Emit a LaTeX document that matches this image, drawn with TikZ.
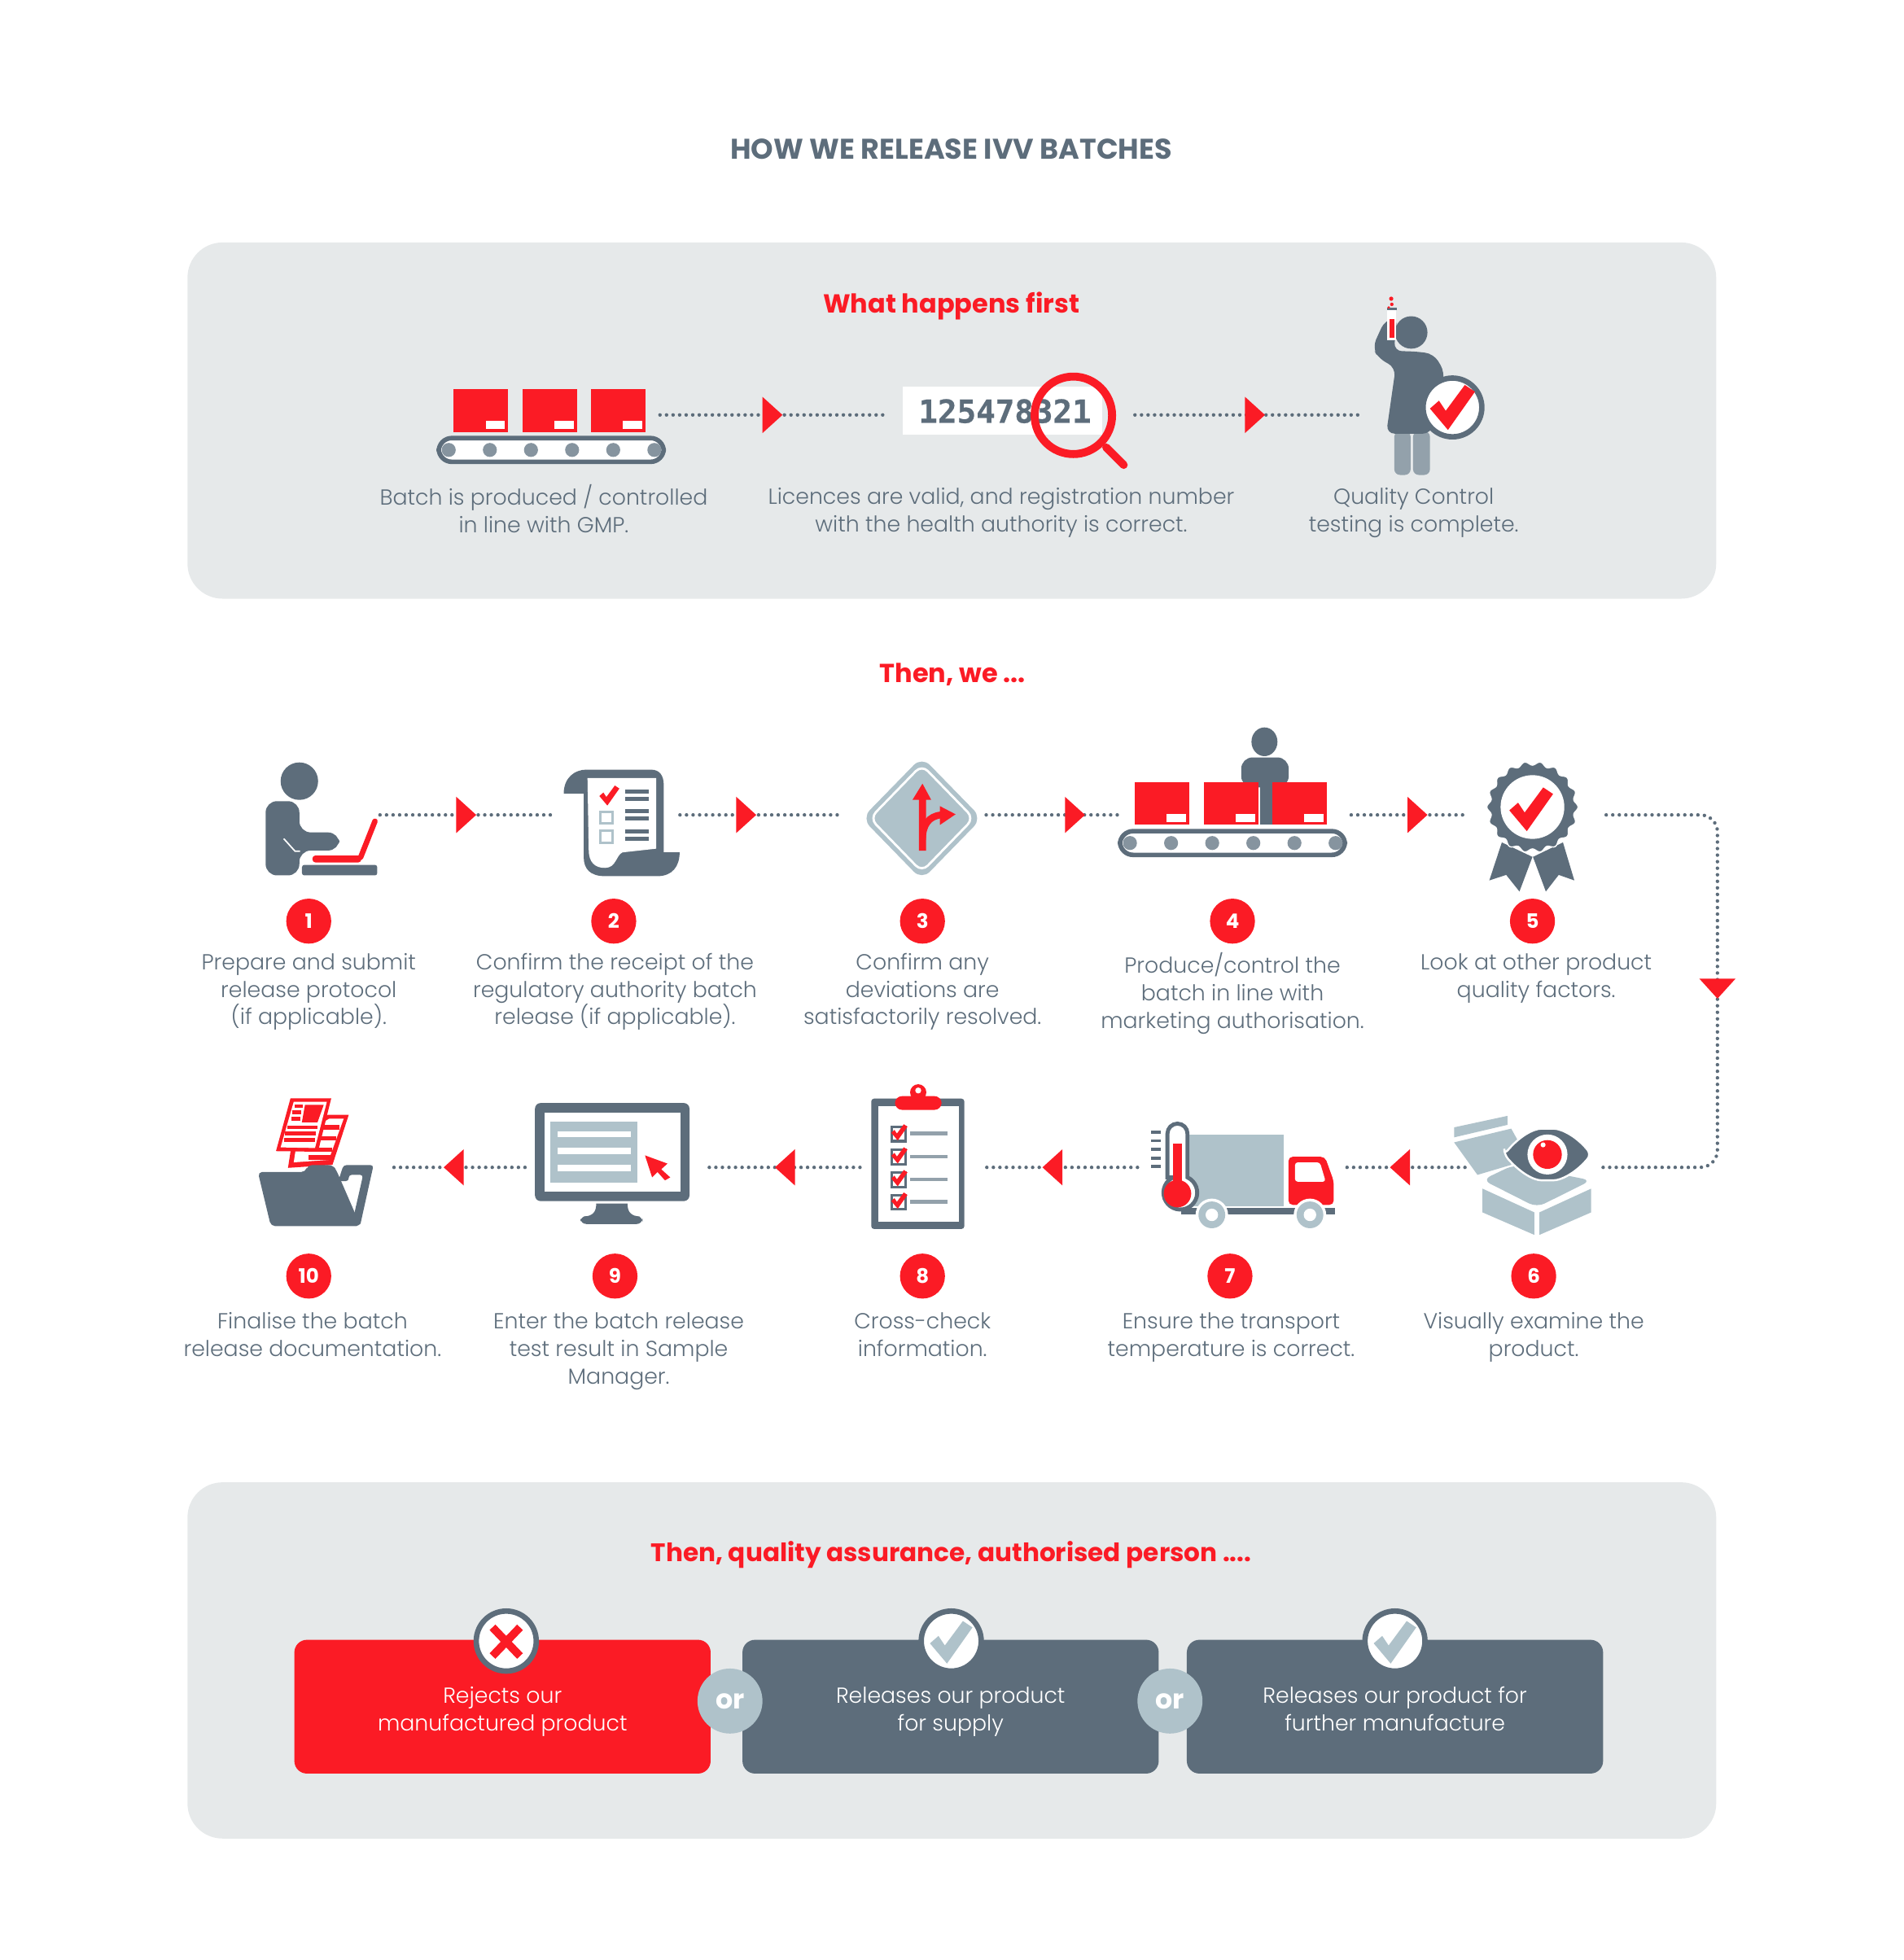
\documentclass[tikz,border=0pt]{standalone}
\usepackage{fontspec}
\setmainfont{Poppins}[UprightFont={* Light},BoldFont={* Bold}]
\newfontfamily\platefont[BoldFeatures={FakeBold=0.6}]{DejaVu Sans Mono}
\definecolor{flowred}{HTML}{FB1B25}
\definecolor{icongray}{HTML}{5D6D7B}
\definecolor{iconlight}{HTML}{AFC2CA}
\definecolor{legblue}{HTML}{93A1AB}
\definecolor{panelgray}{HTML}{E6E9EA}
\def\unitlen{0.0154288cm}
\tikzstyle{flowdots}=[icongray,line width=1.25pt,line cap=round,dash pattern=on 0pt off 2.3pt]
\tikzstyle{iconslot}=[inner sep=0pt,minimum height=1pt,outer sep=0pt]
\tikzstyle{panelbox}=[fill=panelgray,rounded corners=12.3pt,inner sep=0pt,minimum width=1223*\unitlen,minimum height=285*\unitlen]
\tikzstyle{headline}=[flowred,font=\fontsize{9.15}{11}\selectfont\bfseries]
\tikzstyle{stepnum}=[circle,fill=flowred,text=white,inner sep=0pt,minimum size=36*\unitlen,font=\fontsize{7}{8}\selectfont\bfseries]
\tikzstyle{steptext}=[icongray,align=center,anchor=north,inner sep=0pt,font=\fontsize{7.65}{9.65}\selectfont]
\tikzstyle{outcomebox}=[text=white,align=center,rounded corners=4.4pt,inner sep=0pt,minimum width=333*\unitlen,minimum height=107*\unitlen,font=\fontsize{7.65}{9.65}\selectfont]
\tikzstyle{orbadge}=[circle,fill=iconlight,text=white,inner sep=0pt,minimum size=52*\unitlen,font=\fontsize{9.5}{11}\selectfont\bfseries]
\tikzstyle{resultbadge}=[circle,draw=icongray,fill=white,line width=1.9pt,inner sep=0pt,minimum size=48*\unitlen]
\newcommand{\slot}[4]{
	\node[iconslot,minimum width=(#3-#2)*\unitlen] (#1) at ({(#2+#3)/2},#4) {};
}
\newcommand{\flowtri}[3]{
	\fill[flowred,shift={(#1,#2)},rotate=#3] (-8,-14.5) -- (8,0) -- (-8,14.5) -- cycle;
}
\newcommand{\tickmark}[4]{
	\fill[#1,shift={(#2,#3)},scale=#4] (-1,0.05) -- (-0.6,-0.3) -- (-0.3,0.15) -- (0.55,-1) -- (1,-0.7) -- (-0.2,1) -- cycle;
}
\newcommand{\twolines}[2]{\rule{0pt}{9.5pt}#1\\#2\rule[-2.1pt]{0pt}{0pt}}
\newcommand{\drawconveyor}[2]{
\begin{scope}[shift={(#1,#2)}]
	\foreach \i in {0,1,2} {
		\fill[flowred] (14+55*\i,-37) rectangle ++(43.5,34);
		\fill[white] (39.5+55*\i,-12) rectangle ++(15.5,6.7);
	}
	\draw[icongray,fill=white,line width=1.6pt,rounded corners=4.6pt] (2,2) rectangle (182,21);
	\foreach \i in {0,...,5}
		\fill[legblue!75!icongray] (10+32.9*\i,11.5) circle [radius=5.6];
\end{scope}
}
\begin{document}
\begin{tikzpicture}[x=\unitlen,y=-\unitlen]
\useasboundingbox (0,0) rectangle (1523.2,1568.2);
% panels
\node[panelbox] (toppanel) at (761.5,336.5) {};
\node[panelbox] (endpanel) at (761.5,1328.5) {};
% headings
\node[icongray,font=\fontsize{10}{12}\selectfont\bfseries] (title) at (761,119.5) {HOW WE RELEASE IVV BATCHES};
\node[headline] (firsthead) at (761,245) {What happens first};
\node[headline] (thenhead) at (762,539.5) {Then, we ...};
\node[headline,font=\fontsize{8.9}{11}\selectfont\bfseries] (qahead) at (761,1244) {Then, quality assurance, authorised person ....};
% slots the connectors run between
\slot{beltone}{345}{528}{332}
\slot{plate}{711}{908}{332}
\slot{tester}{1091}{1190}{332}
\slot{laptop}{200}{304}{652}
\slot{scroll}{442}{544}{652}
\slot{sign}{670}{789}{652}
\slot{belttwo}{898}{1081}{652}
\slot{rosette}{1173}{1285}{652}
\slot{eyebox}{1172}{1282}{934}
\slot{truck}{910}{1073}{934}
\slot{clipboard}{688}{788}{934}
\slot{monitor}{420}{565}{934}
\slot{folder}{200}{310}{934}
\coordinate (bendtop) at (1374,652);
\coordinate (bendbot) at (1374,934);
% connectors
\draw[flowdots] (beltone) -- (plate);
\draw[flowdots] (plate) -- (tester);
\draw[flowdots] (laptop) -- (scroll);
\draw[flowdots] (scroll) -- (sign);
\draw[flowdots] (sign) -- (belttwo);
\draw[flowdots] (belttwo) -- (rosette);
\draw[flowdots,rounded corners=6pt] (rosette) -- (bendtop) -- (bendbot) -- (eyebox);
\draw[flowdots] (eyebox) -- (truck);
\draw[flowdots] (truck) -- (clipboard);
\draw[flowdots] (clipboard) -- (monitor);
\draw[flowdots] (monitor) -- (folder);
\flowtri{618}{332}{0}
\flowtri{1004}{332}{0}
\flowtri{373}{652}{0}
\flowtri{597}{652}{0}
\flowtri{860}{652}{0}
\flowtri{1134}{652}{0}
\flowtri{1374}{791}{-90}
\flowtri{1120}{934}{180}
\flowtri{842}{934}{180}
\flowtri{628}{934}{180}
\flowtri{363}{934}{180}
% top row: conveyor
\drawconveyor{349}{348.5}
% top row: number under the lens
\fill[white] (722,309.5) rectangle (882,347.5);
\node[icongray,font=\platefont\fontsize{11.2}{12}\selectfont\bfseries] (number) at (804,329) {125478321};
\draw[flowred,line width=2.8pt] (858.7,332.3) circle [radius=31];
\draw[flowred,line width=2.8pt,line cap=round] (885,358) -- (899,372);
% top row: tester
\fill[legblue,rounded corners=2pt] (1115.5,345) rectangle (1128.5,380);
\fill[legblue,rounded corners=2pt] (1130.5,345) rectangle (1144,380);
\fill[icongray] (1129,266) circle [radius=13];
\fill[icongray,rounded corners=3pt] (1108,256) -- (1098,278) -- (1103,287) -- (1116.6,294) -- (1109,347) -- (1145,347) -- (1156,298) -- (1147,283) -- (1130,281) -- (1115,281) -- (1118,254) -- cycle;
\fill[white] (1110,247) rectangle (1117,272);
\fill[flowred] (1111.5,255.5) rectangle (1115.5,270.5);
\fill[icongray] (1109.5,246) rectangle (1117.5,248);
\fill[flowred] (1113,239) circle [radius=1.7] (1113.5,243.5) circle [radius=1.4] (1111,246) circle [radius=1];
\draw[icongray,fill=white,line width=1.9pt] (1162,326) circle [radius=23.5];
\tickmark{flowred}{1162}{326}{18}
% step 1: laptop
\fill[icongray] (239.5,625) ellipse [x radius=15,y radius=15];
\fill[icongray,rounded corners=4pt] (212.5,700.4) -- (212.5,641) -- (239.5,641) -- (239.5,666) -- (271.5,666) -- (271.5,680.5) -- (239.5,680.5) -- (239.5,700.4) -- cycle;
\draw[white,line width=0.5pt] (227,671) -- (236,681) -- (240,681);
\fill[icongray,rounded corners=0.8pt] (241.6,692) rectangle (301.8,700.4);
\fill[flowred,rounded corners=1pt] (250,684.5) rectangle (289,690);
\draw[flowred,line width=1.9pt,line cap=round] (288.5,686) -- (300,657);
% step 2: scroll
\fill[icongray] (451,635) .. controls (451,622) and (460,615.8) .. (469,615.8) -- (521,615.8) .. controls (528,615.8) and (531,621) .. (531,628) -- (531,682) -- (543.7,682) .. controls (543.7,693) and (538,701) .. (526,701) -- (484,701) .. controls (472,701) and (467,695) .. (467,686) -- (467,635) -- cycle;
\fill[white] (470,622.5) -- (525,622.5) -- (525,679) -- (498,682) .. controls (493,684) and (493,694.4) .. (484,694.4) .. controls (476,694.4) and (471,690) .. (471,680) -- cycle;
\tickmark{flowred}{487.5}{636.5}{8}
\foreach \y in {633.5,639,649,655,665,671}
	\fill[icongray] (500,\y-1.6) rectangle (519,\y+1.6);
\draw[iconlight,line width=0.9pt] (480.5,649.5) rectangle (490,659);
\draw[iconlight,line width=0.9pt] (480.5,664.5) rectangle (490,674.5);
% step 3: road sign
\fill[iconlight,rounded corners=4pt] (737.5,605.5) -- (785.5,654.7) -- (737.5,704) -- (689.5,654.7) -- cycle;
\draw[white,line width=0.8pt,rounded corners=3pt] (737.5,612) -- (779,654.7) -- (737.5,697.5) -- (696,654.7) -- cycle;
\fill[flowred] (735.2,680.7) -- (735.2,640) -- (730,640) -- (738,627) -- (745,640) -- (740.8,640) -- (740.8,680.7) -- cycle;
\draw[flowred,line width=2.4pt] (738,672) .. controls (738,660) and (743,653) .. (753,652);
\fill[flowred] (752,645) -- (764.5,651.5) -- (752,660) -- cycle;
% step 4: person at conveyor
\fill[icongray] (1011.6,593.5) ellipse [x radius=10.4,y radius=11.5];
\fill[icongray,rounded corners=4pt] (993,630) -- (993,606) -- (1031,606) -- (1031,630) -- cycle;
\fill[icongray] (1008,620) rectangle (1018.8,660);
\drawconveyor{894}{663}
% step 5: rosette
\fill[icongray] (1201.5,674) -- (1226,685.6) -- (1215.6,713.3) -- (1205,700) -- (1191.5,704.4) -- cycle;
\fill[icongray] (1226.4,685.6) -- (1250.4,674) -- (1259.5,704.4) -- (1247,700) -- (1236.7,713.3) -- cycle;
\filldraw[icongray,draw=white,line width=0.4pt] plot[domain=0:358,samples=180,smooth cycle] ({1226+(35+1.5*cos(18*\x))*cos(\x)},{645.7+(35+1.5*cos(18*\x))*sin(\x)});
\fill[white] (1226,645.7) circle [radius=25.5];
\tickmark{flowred}{1225}{647.5}{17.5}
% step 6: box and eye
\fill[iconlight] (1163.3,902) -- (1206,892.8) -- (1206,900) -- (1163.3,910) -- cycle;
\fill[iconlight] (1163.3,914) -- (1209,903) -- (1214,912) -- (1209,932) -- (1182,940) -- cycle;
\fill[iconlight,rounded corners=3pt] (1186,944) -- (1211,932) -- (1273,944.4) -- (1229.5,966) -- cycle;
\fill[iconlight] (1186,951) -- (1227.5,970) -- (1227.5,988) -- (1186,970) -- cycle;
\fill[iconlight] (1231.6,970) -- (1273,951) -- (1273,970) -- (1231.6,988) -- cycle;
\filldraw[icongray,draw=white,line width=0.7pt,rounded corners=2pt] (1203.4,923.7) .. controls (1215,910) and (1226,903) .. (1238,903) .. controls (1250,903) and (1262,910) .. (1273,923.7) .. controls (1262,937) and (1250,944.4) .. (1238,944.4) .. controls (1226,944.4) and (1215,937) .. cycle;
\fill[white] (1238,923.7) circle [radius=16];
\fill[flowred] (1238,923.7) circle [radius=11.5];
\fill[white] (1234.5,916) circle [radius=2];
% step 7: truck with thermometer
\fill[iconlight] (950,908) rectangle (1027,965);
\fill[icongray] (945,966.6) rectangle (1068,971.8);
\fill[flowred,rounded corners=1.5pt] (1030.8,964) -- (1030.8,925.5) -- (1060,925.5) -- (1067,945) -- (1067,964) -- cycle;
\fill[white,rounded corners=1pt] (1036,930) -- (1056,930) -- (1060.6,945.5) -- (1036,945.5) -- cycle;
\foreach \x in {969.5,1048} {
	\fill[white] (\x,972) circle [radius=13];
	\fill[iconlight] (\x,972) circle [radius=10.7];
	\fill[white] (\x,972) circle [radius=5];
}
\foreach \y in {905.7,912.8,919.5,926.6,933.3}
	\fill[icongray] (920.7,\y-1.2) rectangle (928.5,\y+1.2);
\filldraw[icongray,fill=white,line width=1.4pt] (934,942) -- (934,907) arc [start angle=180,end angle=360,x radius=8,y radius=8] -- (950,942) arc [start angle=-65,end angle=245,radius=13.5] -- cycle;
\fill[flowred] (942,955) circle [radius=11];
\fill[flowred] (938.2,915) rectangle (945.8,950);
% step 8: clipboard
\fill[icongray,rounded corners=1pt] (697,879) rectangle (771.5,983.3);
\fill[white] (702.6,885) rectangle (767,977.3);
\fill[flowred] (734.6,874) circle [radius=6.5];
\fill[white] (734.6,872.5) circle [radius=2.4];
\fill[flowred,rounded corners=2.5pt] (716,877) -- (753.3,877) -- (753.3,888) -- (716,888) -- cycle;
\foreach \y in {907,925.4,943.6,961.6} {
	\draw[icongray,line width=0.9pt] (713.5,\y-5.5) rectangle (724.5,\y+6);
	\fill[legblue] (728.4,\y-1.5) rectangle (758,\y+1.5);
	\tickmark{flowred}{719.5}{\y-1}{6.5}
}
% step 9: monitor
\fill[icongray,rounded corners=2pt] (428,882.5) rectangle (551.6,961);
\fill[white] (435.8,890.3) rectangle (544.5,953.3);
\fill[iconlight] (440.4,897.2) rectangle (509.7,946);
\fill[white] (445.8,905) rectangle (504.7,910);
\fill[white] (445.8,918.4) rectangle (504.7,923.3);
\fill[white] (445.8,932) rectangle (504.7,937);
\fill[flowred] (516,924.4) -- (534,931) -- (529,935.5) -- (536.2,942) -- (532,944.4) -- (526,937.7) -- (521.7,942) -- cycle;
\fill[icongray] (477,963) -- (502,963) .. controls (502,970) and (505,973) .. (512,973.3) -- (467,973.3) .. controls (474,973) and (477,970) .. (477,963) -- cycle;
\fill[icongray,rounded corners=2pt] (464.4,973) rectangle (514,979.3);
% step 10: folder
\fill[flowred] (262.3,892) -- (279,892) -- (266,932) -- (230.4,934.4) -- (235,905) -- cycle;
\fill[white] (263.5,895) -- (275,895) -- (263,928) -- (235,930) -- (238,910) -- cycle;
\foreach \y in {902,911,920,926}
	\fill[flowred] (247,\y-1.7) rectangle (272-0.3*\y+270,\y+1.7);
\fill[flowred] (232.4,878.8) -- (265,878.8) -- (254.4,921.5) -- (220.8,921) -- cycle;
\fill[white] (235,881.5) -- (261.5,881.5) -- (252,918.5) -- (224.5,918) -- cycle;
\fill[flowred] (244,884) -- (259,884) -- (254,898) -- (241.5,898) -- cycle;
\foreach \y/\xa/\xb in {885/235.5/242,890/234/241,895/233/240,902/230/254,907/228/253,912/227/252}
	\fill[flowred] (\xa,\y-1.5) rectangle (\xb,\y+1.5);
\fill[icongray,rounded corners=1.5pt] (206.3,937.7) -- (244.5,937.7) -- (246,932.2) -- (266.5,932.2) -- (269.4,937) -- (288.5,981) -- (216.7,981) -- cycle;
\fill[icongray,rounded corners=1pt] (274.8,932.2) -- (298.8,932.2) -- (288,981) -- (281,973) -- (283,973) -- (290.5,940) -- (279,940) -- (279,945) -- (270.6,945) -- cycle;
% step numbers
\foreach \i/\x/\y in {1/247/737,2/491/737,3/738/737,4/986/737,5/1226/737,6/1227/1021,7/984/1021,8/738/1021,9/492/1021,10/247/1021}
	\node[stepnum] (num\i) at (\x,\y) {\i};
% top captions
\node[steptext] (capbatch) at (435,387.5) {\strut Batch is produced / controlled\\in line with GMP.};
\node[steptext] (caplicence) at (801,387.5) {\strut Licences are valid, and registration number\\with the health authority is correct.};
\node[steptext] (capquality) at (1131,387.5) {\strut Quality Control\\testing is complete.};
% step captions
\node[steptext] (text1) at (247,760) {\strut Prepare and submit\\release protocol\\(if applicable).};
\node[steptext] (text2) at (492,760) {\strut Confirm the receipt of the\\regulatory authority batch\\release (if applicable).};
\node[steptext] (text3) at (738,760) {\strut Confirm any\\deviations are\\satisfactorily resolved.};
\node[steptext] (text4) at (986,762) {\strut Produce/control the\\batch in line with\\marketing authorisation.};
\node[steptext] (text5) at (1229,760) {\strut Look at other product\\quality factors.};
\node[steptext] (text6) at (1227,1047.5) {\strut Visually examine the\\product.};
\node[steptext] (text7) at (985,1047.5) {\strut Ensure the transport\\temperature is correct.};
\node[steptext] (text8) at (738,1047.5) {\strut Cross-check\\information.};
\node[steptext] (text9) at (495,1047.5) {\strut Enter the batch release\\test result in Sample\\Manager.};
\node[steptext] (text10) at (250,1047.5) {\strut Finalise the batch\\release documentation.};
% outcome boxes
\node[outcomebox,fill=flowred] (reject) at (402,1365.5) {\twolines{Rejects our}{manufactured product}};
\node[outcomebox,fill=icongray] (supply) at (760.5,1365.5) {\twolines{Releases our product}{for supply}};
\node[outcomebox,fill=icongray] (further) at (1116,1365.5) {\twolines{Releases our product for}{further manufacture}};
\node[orbadge] (orone) at (584,1361) {or};
\node[orbadge] (ortwo) at (936,1361) {or};
\node[resultbadge] (rejectmark) at (405,1313) {};
\node[resultbadge] (supplymark) at (761,1313) {};
\node[resultbadge] (furthermark) at (1116,1313) {};
\draw[flowred,line width=2.8pt] (394,1302) -- (416,1325) (416,1302) -- (394,1325);
\tickmark{iconlight}{761}{1314}{17}
\tickmark{iconlight}{1116}{1314}{17}
\end{tikzpicture}
\end{document}
